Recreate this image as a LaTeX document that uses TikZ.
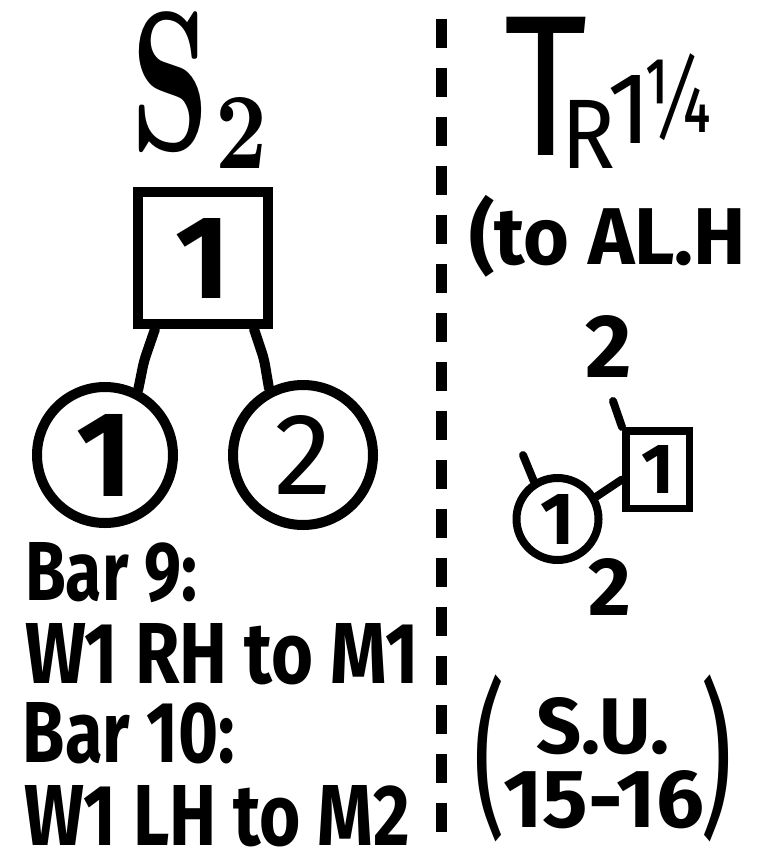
\documentclass[tikz,border=0pt]{standalone}
\usepackage{fontspec}
\newfontfamily\hand{Fira Sans}
\begin{document}
\begin{tikzpicture}[x=1pt,y=-1pt,
  glyph/.style={inner sep=0pt, outer sep=0pt},
  handtext/.style={glyph, font=\hand\bfseries},
  thintext/.style={glyph, font=\hand},
  bigshape/.style={draw, line width=10pt, inner sep=0pt, font=\hand\bfseries},
  smallshape/.style={draw, line width=7.5pt, inner sep=0pt, font=\hand\bfseries},
  link/.style={line width=10pt, line cap=round, line join=round, rounded corners=6pt},
  smalllink/.style={line width=8pt, line cap=round}]
\useasboundingbox (0,0) rectangle (761,851);
\fill[white] (0,0) rectangle (761,851);
% divider
\draw[line width=11pt, dash pattern=on 29pt off 20pt] (441,19) -- (441,851);
% left tree
\node[glyph, font=\bfseries] (S) at (170.5,82.5) {\resizebox*{78pt}{141pt}{S}};
\node[glyph, font=\bfseries] (Ssub) at (241.5,132.5) {\resizebox*{52pt}{71pt}{2}};
\node[bigshape, minimum width=130pt, minimum height=132pt] (sq) at (203,258) {\resizebox{!}{80pt}{1}};
\node[bigshape, circle, minimum size=136pt] (c1) at (105,455) {\resizebox{!}{82pt}{1}};
\node[bigshape, circle, minimum size=140pt, font=\hand] (c2) at (303,455) {\resizebox{!}{79pt}{2}};
\draw[link] ([xshift=-48pt]sq.south) -- ++(-11,32) -- (c1.63);
\draw[link] ([xshift=51pt]sq.south) -- ++(10,30) -- (c2.117);
% left notes
\node[handtext, anchor=north west] (b9) at (25,542) {\resizebox{172pt}{58pt}{Bar 9:}};
\node[handtext, anchor=north west] (w1) at (25,623) {\resizebox{394pt}{60pt}{W1 RH to M1}};
\node[handtext, anchor=north west] (b10) at (23,702) {\resizebox{212pt}{60pt}{Bar 10:}};
\node[handtext, anchor=north west] (w2) at (25,785) {\resizebox{385pt}{60pt}{W1 LH to M2}};
% right heading
\node[thintext, anchor=north west] (T) at (504,17) {\resizebox{83pt}{138pt}{T}};
\node[thintext, anchor=north west] (R) at (561,100) {\resizebox{54pt}{68pt}{R}};
\node[thintext] (one) at (630,109) {\resizebox{!}{68pt}{1}};
\node[thintext] (qtr) at (678,97) {\resizebox*{70pt}{87pt}{¼}};
\node[handtext, anchor=north west] (al) at (469,195) {\resizebox*{277pt}{82pt}{(to AL.H}};
% right figure
\node[handtext] (t2) at (609,346) {\resizebox{!}{62pt}{2}};
\node[smallshape, minimum width=63.5pt, minimum height=77.5pt] (sb) at (657.5,469.5) {\resizebox{!}{48pt}{1}};
\node[draw, circle, line width=8pt, inner sep=0pt, minimum size=82pt, font=\hand\bfseries] (sc) at (557.5,519) {\resizebox{!}{50pt}{1}};
\node[handtext] (b2) at (610,586.5) {\resizebox{!}{57pt}{2}};
\coordinate (tk1) at (613,401);
\coordinate (tk2) at (523,455);
\draw[smalllink] (sc.30) -- ([yshift=-10pt]sb.west);
\draw[smalllink] (sb.north west) -- (tk1);
\draw[smalllink] (sc.122) -- (tk2);
% S.U.
\node[thintext] (lp) at (490,758.5) {\resizebox*{32pt}{167pt}{(}};
\node[thintext] (rp) at (716,758.5) {\resizebox*{32pt}{167pt}{)}};
\node[handtext, anchor=north west] (su) at (536,697) {\resizebox{133pt}{56pt}{S.U.}};
\node[handtext, anchor=north west] (nums) at (503,770) {\resizebox{201pt}{57pt}{15-16}};
\end{tikzpicture}
\end{document}
